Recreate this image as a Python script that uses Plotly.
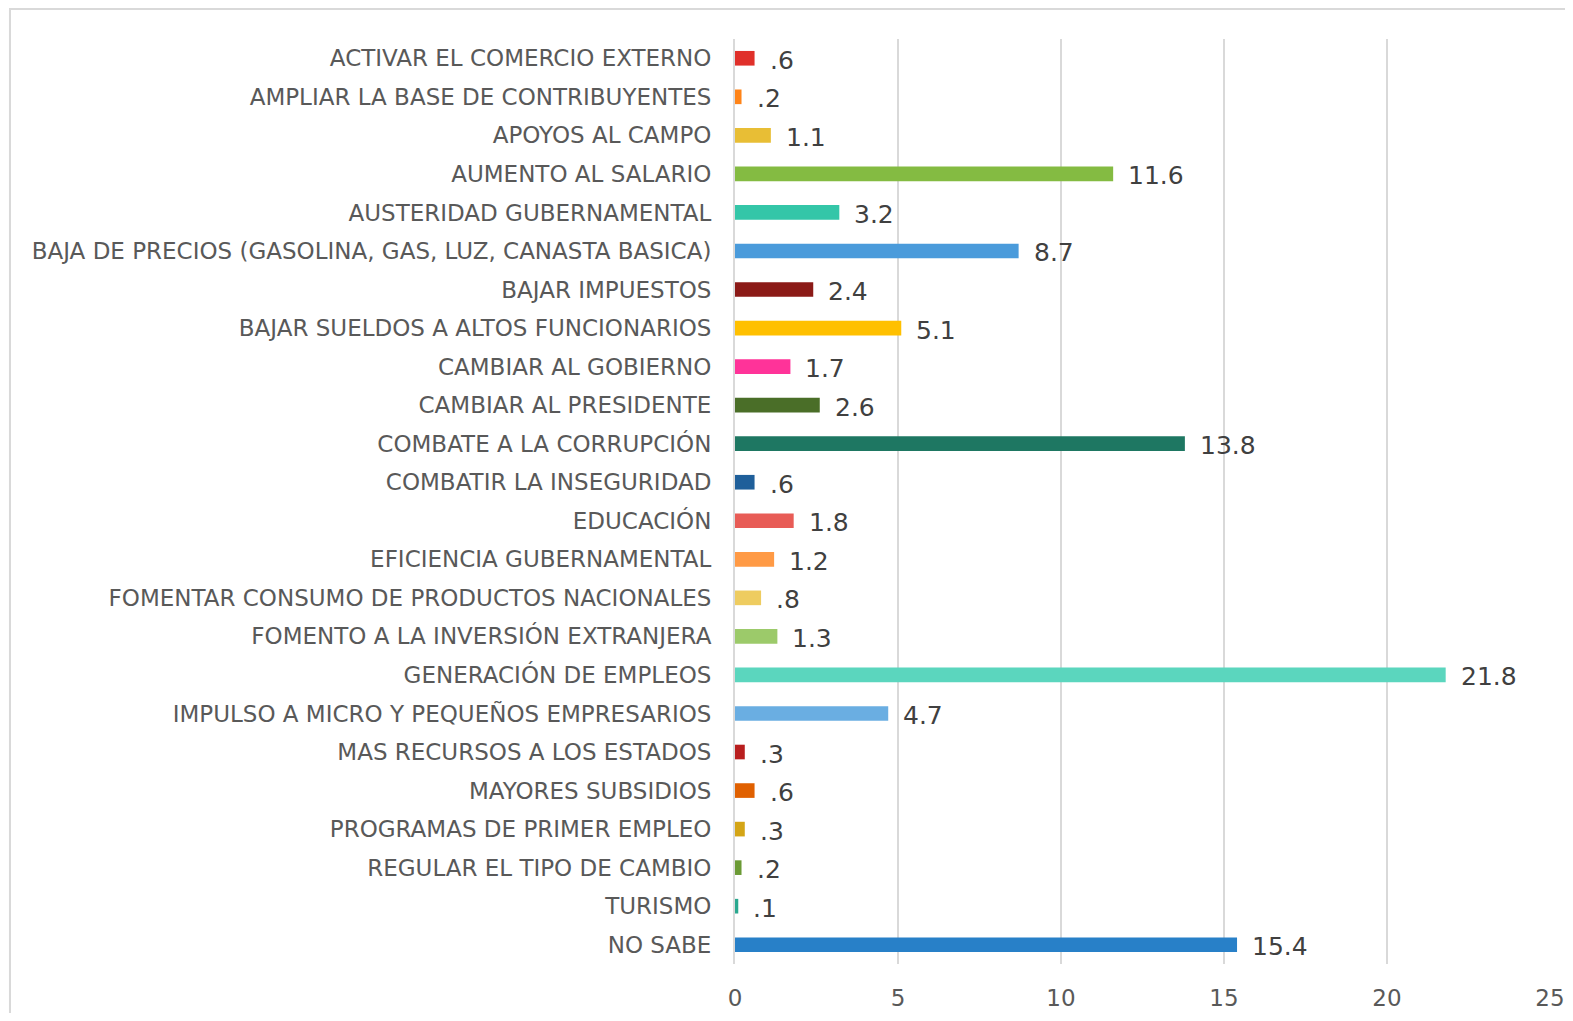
import plotly.graph_objects as go

categories = [
    "ACTIVAR EL COMERCIO EXTERNO",
    "AMPLIAR LA BASE DE CONTRIBUYENTES",
    "APOYOS AL CAMPO",
    "AUMENTO AL SALARIO",
    "AUSTERIDAD GUBERNAMENTAL",
    "BAJA DE PRECIOS (GASOLINA, GAS, LUZ, CANASTA BASICA)",
    "BAJAR IMPUESTOS",
    "BAJAR SUELDOS A ALTOS FUNCIONARIOS",
    "CAMBIAR AL GOBIERNO",
    "CAMBIAR AL PRESIDENTE",
    "COMBATE A LA CORRUPCIÓN",
    "COMBATIR LA INSEGURIDAD",
    "EDUCACIÓN",
    "EFICIENCIA GUBERNAMENTAL",
    "FOMENTAR CONSUMO DE PRODUCTOS NACIONALES",
    "FOMENTO A LA INVERSIÓN EXTRANJERA",
    "GENERACIÓN DE EMPLEOS",
    "IMPULSO A MICRO Y PEQUEÑOS EMPRESARIOS",
    "MAS RECURSOS A LOS ESTADOS",
    "MAYORES SUBSIDIOS",
    "PROGRAMAS DE PRIMER EMPLEO",
    "REGULAR EL TIPO DE CAMBIO",
    "TURISMO",
    "NO SABE",
]
values = [0.6, 0.2, 1.1, 11.6, 3.2, 8.7, 2.4, 5.1, 1.7, 2.6, 13.8, 0.6,
          1.8, 1.2, 0.8, 1.3, 21.8, 4.7, 0.3, 0.6, 0.3, 0.2, 0.1, 15.4]
colors = ["#E0302A", "#FF8418", "#E8BE35", "#84BB42", "#34C6A8", "#4A9BDB",
          "#8B1A17", "#FFC000", "#FF3399", "#4A6E28", "#1E7762", "#1F5F9A",
          "#E85C56", "#FF9A45", "#EECC60", "#9CCA6A", "#5BD6BE", "#6AAEE2",
          "#B81E1E", "#E06000", "#D4A516", "#6B9A35", "#2AA88F", "#2880C8"]
x_ticks = [0, 5, 10, 15, 20, 25]


def fmt(v):
    s = f"{v:.1f}"
    return s[1:] if s.startswith("0") else s


labels = [fmt(v) for v in values]

FONT = "DejaVu Sans"
GRAY = "#595959"

fig = go.Figure()
fig.add_trace(go.Bar(
    x=values, y=categories, orientation="h",
    marker=dict(color=colors, line=dict(width=0)),
    width=0.38, hoverinfo="x+y",
))

for c, v, t in zip(categories, values, labels):
    fig.add_annotation(x=v, y=c, text=t, showarrow=False, xanchor="left",
                       xshift=13, yshift=-2,
                       font=dict(family=FONT, size=25, color="#404040"))

# outer chart border (light gray frame), in paper coordinates of the plot area
fig.add_shape(type="rect", xref="paper", yref="paper",
              x0=-0.8896, x1=1.05, y0=-0.1, y1=1.0324,
              line=dict(color="#D9D9D9", width=2), layer="below")

fig.update_layout(
    width=1557, height=1005,
    margin=dict(l=727, r=15, t=31, b=49, autoexpand=False),
    paper_bgcolor="white", plot_bgcolor="white",
    showlegend=False,
    font=dict(family=FONT, color=GRAY),
)
fig.update_xaxes(range=[0, 25], tickvals=x_ticks, showgrid=True,
                 gridcolor="#D9D9D9", gridwidth=2, zeroline=False,
                 showline=False, tickfont=dict(family=FONT, size=23, color=GRAY),
                 ticklabelstandoff=18, automargin=False, fixedrange=True)
fig.update_yaxes(autorange="reversed", showgrid=False, zeroline=False,
                 showline=True, linecolor="#D9D9D9", linewidth=2,
                 tickfont=dict(family=FONT, size=23, color=GRAY),
                 ticklabelstandoff=17, automargin=False, fixedrange=True)

fig.write_html("out.html")
